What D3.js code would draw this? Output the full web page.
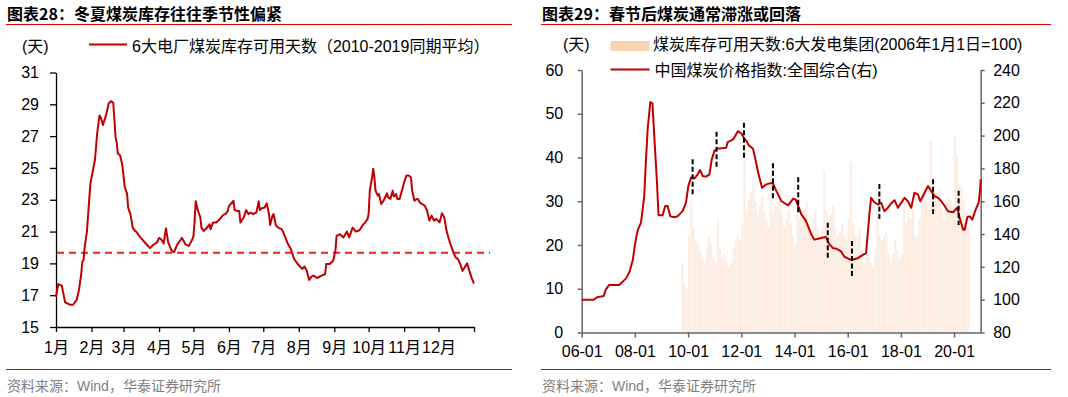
<!DOCTYPE html>
<html>
<head>
<meta charset="utf-8">
<script src="https://cdn.jsdelivr.net/npm/d3@7"></script>
<style>
  body { margin: 0; background: #fff; }
  svg { display: block; font-family: "Liberation Sans", "Noto Sans CJK SC", sans-serif; }
  .title { font-family: "Noto Sans CJK SC", sans-serif; font-weight: 700; font-size: 16px; fill: #000; }
  .source { font-size: 14px; fill: #808080; }
  .legend { font-size: 16px; fill: #000; }
  .axis text { font-size: 16px; fill: #000; font-family: "Liberation Sans", "Noto Sans CJK SC", sans-serif; }
</style>
</head>
<body>
<svg id="chart" width="1068" height="397"></svg>
<script>
// ---- chart 28: inventory days, 2010-2019 average, [day of year, days] ----
const invSeries = [
  [0,16.9],[2,17.7],[5,17.6],[8,16.55],[12,16.4],[15,16.4],[18,16.7],[20,17.3],[22,18.3],[23,19.1],
  [24,19.2],[25,20.0],[27,21.0],[30,24.0],[34,25.5],[36,27.2],[38,28.3],[39,28.2],[41,27.7],[44,28.4],
  [46,29.05],[48,29.2],[50,29.1],[52,26.95],[53,26.6],[54,25.9],[56,25.8],[58,25.15],[60,23.8],[62,23.4],
  [63,22.5],[65,22.1],[67,21.25],[69,21.04],[70,21.0],[74,20.6],[79,20.2],[82,19.96],[85,20.17],[88,20.3],
  [90,20.6],[92,20.5],[94,20.25],[96,21.2],[98,20.3],[101,19.8],[103,19.7],[106,20.2],[109,20.5],[110,20.6],
  [113,20.2],[116,20.1],[119,20.5],[120,20.7],[121,21.6],[122,22.9],[124,22.3],[126,21.9],[127,21.25],[129,21.04],
  [132,21.25],[134,21.46],[135,21.15],[137,21.57],[140,21.57],[143,21.78],[146,22.05],[148,22.1],[150,22.3],[151,22.6],
  [153,22.77],[155,22.94],[156,22.35],[158,22.3],[160,22.3],[161,21.57],[164,21.9],[166,22.35],[168,22.1],[170,22.2],
  [172,22.1],[175,22.2],[177,22.9],[178,22.35],[180,22.48],[182,22.5],[184,22.77],[186,22.1],[187,21.42],[189,21.99],
  [190,22.1],[192,21.4],[194,21.25],[197,21.15],[198,21.04],[202,20.3],[205,19.9],[208,19.27],[211,18.96],[215,18.65],
  [217,18.8],[219,18.54],[221,17.96],[223,18.17],[225,18.23],[228,18.08],[232,18.23],[235,18.33],[236,18.96],[239,18.96],
  [242,19.17],[244,19.8],[245,20.73],[248,20.83],[251,20.63],[254,21.0],[256,20.63],[259,21.25],[262,21.0],[265,21.08],
  [268,21.42],[270,21.57],[272,21.78],[273,22.1],[274,23.57],[276,24.4],[277,24.95],[278,24.4],[279,23.57],[281,23.26],
  [282,23.36],[284,22.73],[286,22.94],[289,23.4],[290,23.15],[292,23.05],[294,23.57],[295,23.2],[297,23.36],[298,23.05],
  [300,23.05],[302,23.57],[304,24.1],[306,24.52],[308,24.52],[310,24.4],[311,23.57],[313,22.94],[315,23.05],[316,23.05],
  [318,22.8],[322,22.63],[324,22.32],[326,21.69],[328,22.0],[330,21.69],[332,21.8],[335,21.58],[337,22.15],[339,21.9],
  [341,21.06],[343,20.53],[345,20.1],[347,19.69],[349,19.37],[351,19.27],[353,18.96],[355,18.53],[359,19.0],[361,18.53],
  [363,18.07],[365,17.73]
];
const invAverage = 19.67;
const invTicks = [15, 17, 19, 21, 23, 25, 27, 29, 31];
const monthLabels = ['1月','2月','3月','4月','5月','6月','7月','8月','9月','10月','11月','12月'];

// ---- chart 29: coal price index [year, index] and inventory days (monthly) ----
const priceSeries = [
  [2006.0,100],[2006.45,100],[2006.58,101.5],[2006.83,102.3],[2006.9,106],[2007.03,109],[2007.41,109],[2007.54,111],
  [2007.67,113],[2007.8,117],[2007.92,124],[2007.98,131],[2008.05,138],[2008.12,143],[2008.23,147],[2008.35,163],
  [2008.41,183],[2008.48,204],[2008.58,220.5],[2008.66,219.6],[2008.75,193.6],[2008.83,171.3],[2008.89,151.4],[2009.04,151.4],
  [2009.14,157.1],[2009.23,157.1],[2009.33,150.9],[2009.48,150.3],[2009.61,150.9],[2009.8,154.1],[2009.92,159.2],[2010.01,169.4],
  [2010.11,174.5],[2010.24,174],[2010.36,176.4],[2010.45,179],[2010.55,175.4],[2010.68,175],[2010.8,176.4],[2010.89,185.6],
  [2010.99,190.7],[2011.09,192],[2011.43,192.6],[2011.49,196],[2011.68,197.6],[2011.75,199.2],[2011.87,202.7],[2012.0,201.3],
  [2012.1,198.6],[2012.19,196.7],[2012.29,194],[2012.44,192],[2012.53,185.6],[2012.65,176.4],[2012.78,168.2],[2012.94,170.3],
  [2013.07,170.9],[2013.19,170.9],[2013.32,166.2],[2013.51,160],[2013.76,157.5],[2013.95,161.6],[2014.04,161.1],[2014.14,157.1],
  [2014.26,152],[2014.43,148],[2014.62,140.2],[2014.74,136.6],[2014.89,137.1],[2015.04,137.8],[2015.18,138.2],[2015.3,134],
  [2015.45,131.4],[2015.56,131.2],[2015.75,129.4],[2015.87,126.3],[2016.12,124.2],[2016.38,125.3],[2016.57,127.3],[2016.69,128.4],
  [2016.82,152.9],[2016.88,162.1],[2017.0,159.4],[2017.13,158],[2017.26,159],[2017.38,153.9],[2017.51,156],[2017.62,158.5],
  [2017.76,160.7],[2017.89,156],[2018.01,159],[2018.14,162.1],[2018.26,160],[2018.39,156],[2018.51,165.2],[2018.64,164.1],
  [2018.73,160],[2018.89,165.2],[2019.02,169.3],[2019.14,166.2],[2019.27,163.1],[2019.4,162.1],[2019.52,160],[2019.65,157],
  [2019.77,153.9],[2019.96,153.3],[2020.12,156],[2020.21,149.8],[2020.34,142.7],[2020.4,142.7],[2020.5,150.4],[2020.59,150.8],
  [2020.68,148.8],[2020.81,154.9],[2020.92,159],[2020.98,167.2],[2021.0,173.4]
];
const stockStart = [2009, 10]; // first month of the inventory bars
const stockDays = [
  16, 11, 10,
  22, 30, 24, 21, 20, 19, 17, 16, 19, 22, 20, 17,
  16, 26, 19, 17, 18, 16, 15, 16, 19, 21, 22, 21,
  25, 43, 28, 30, 32, 34, 30, 27, 29, 31, 28, 26,
  24, 36, 27, 29, 30, 33, 27, 24, 26, 28, 25, 22,
  20, 31, 26, 27, 28, 30, 25, 23, 26, 28, 24, 22,
  24, 37, 28, 26, 27, 29, 24, 22, 23, 25, 22, 21,
  26, 39, 25, 22, 22, 24, 19, 16, 17, 18, 16, 15,
  19, 27, 22, 21, 22, 23, 18, 16, 18, 21, 19, 17,
  18, 30, 25, 27, 26, 28, 22, 22, 26, 30, 33, 30,
  28, 44, 33, 31, 32, 33, 28, 26, 29, 31, 30, 27,
  45, 40, 34, 33, 30, 26, 24
];
// Spring Festival markers: [year, low, high] on the right axis
const festivalMarks = [
  [2010.17,163.8,185.6],[2011.07,180.7,202.4],[2012.1,186.2,207.9],[2013.19,161.8,183.1],[2014.14,153,174.6],
  [2015.25,125.2,146.9],[2016.16,113.8,135.8],[2017.19,149,170.5],[2019.21,152.2,173.4],[2020.17,145.5,166.4]
];
const yearTicks = [2006, 2008, 2010, 2012, 2014, 2016, 2018, 2020];
const leftTicks29 = [0, 10, 20, 30, 40, 50, 60];
const rightTicks29 = [80, 100, 120, 140, 160, 180, 200, 220, 240];

const svg = d3.select('#chart');

function frame(x0, x1, title) {
  svg.append('text').attr('class', 'title').attr('x', x0 + 1).attr('y', 13)
    .attr('dominant-baseline', 'central').text(title);
  svg.append('line').attr('x1', x0).attr('x2', x1).attr('y1', 24.5).attr('y2', 24.5)
    .attr('stroke', '#e00000').attr('stroke-width', 1.2);
  svg.append('line').attr('x1', x0).attr('x2', x1).attr('y1', 369.5).attr('y2', 369.5)
    .attr('stroke', '#e00000').attr('stroke-width', 1.2);
  svg.append('text').attr('class', 'source').attr('x', x0 + 1).attr('y', 386)
    .attr('dominant-baseline', 'central').text('资料来源：Wind，华泰证券研究所');
}

// ===== left panel =====
frame(6, 512, '图表28：冬夏煤炭库存往往季节性偏紧');

const yearStart = new Date(2019, 0, 1);
const dayDate = d => new Date(2019, 0, 1 + d);
const x1 = d3.scaleTime().domain([yearStart, new Date(2020, 0, 1)]).range([56, 474]);
const y1 = d3.scaleLinear().domain([15, 31]).range([327, 72.5]);

const monthTicks = d3.timeMonth.range(yearStart, new Date(2020, 0, 2));
const gx1 = svg.append('g').attr('class', 'axis').attr('transform', 'translate(0,327)')
  .call(d3.axisBottom(x1).tickValues(monthTicks).tickSize(5).tickSizeOuter(0).tickPadding(10)
    .tickFormat((d, i) => i < 12 ? monthLabels[i] : ''));
const gy1 = svg.append('g').attr('class', 'axis').attr('transform', 'translate(56,0)')
  .call(d3.axisLeft(y1).tickValues(invTicks).tickSize(6).tickSizeOuter(0).tickPadding(11));
[gx1, gy1].forEach(g => {
  g.selectAll('path, line').attr('stroke', '#000').attr('stroke-width', 1.3);
});

svg.append('line')
  .attr('x1', x1.range()[0] + 1).attr('x2', x1.range()[1] + 16)
  .attr('y1', y1(invAverage)).attr('y2', y1(invAverage))
  .attr('stroke', '#ee2020').attr('stroke-width', 2).attr('stroke-dasharray', '7,5');

svg.append('path').datum(invSeries)
  .attr('fill', 'none').attr('stroke', '#c00000').attr('stroke-width', 2).attr('stroke-linejoin', 'round')
  .attr('d', d3.line().x(d => x1(dayDate(d[0]))).y(d => y1(d[1])));

svg.append('text').attr('class', 'legend').attr('x', 22).attr('y', 46)
  .attr('dominant-baseline', 'central').text('(天)');
svg.append('line').attr('x1', 89).attr('x2', 127).attr('y1', 44.5).attr('y2', 44.5)
  .attr('stroke', '#c00000').attr('stroke-width', 2);
svg.append('text').attr('class', 'legend').attr('x', 132).attr('y', 46)
  .attr('dominant-baseline', 'central').text('6大电厂煤炭库存可用天数（2010-2019同期平均）');

// ===== right panel =====
frame(541, 1051, '图表29：春节后煤炭通常滞涨或回落');

const x2 = d3.scaleLinear().domain([2006, 2021]).range([581.7, 980.7]);
const yL = d3.scaleLinear().domain([0, 60]).range([332.5, 70]);
const yR = d3.scaleLinear().domain([80, 240]).range([332.5, 70]);

const stockBars = stockDays.map((v, i) => ({
  t: stockStart[0] + (stockStart[1] - 1 + i) / 12,
  v: v
}));
const monthWidth = x2(2007) / 12 - x2(2006) / 12;
svg.append('g').selectAll('rect').data(stockBars).enter().append('rect')
  .attr('x', d => x2(d.t))
  .attr('width', monthWidth * 0.85)
  .attr('y', d => yL(d.v))
  .attr('height', d => yL(0) - yL(d.v))
  .attr('fill', '#f9d3b5').attr('opacity', 0.45);

const gx2 = svg.append('g').attr('class', 'axis').attr('transform', 'translate(0,332.5)')
  .call(d3.axisBottom(x2).tickValues(yearTicks).tickSize(5).tickSizeOuter(0).tickPadding(8)
    .tickFormat(d => String(d).slice(2) + '-01'));
const gyL = svg.append('g').attr('class', 'axis').attr('transform', 'translate(581.7,0)')
  .call(d3.axisLeft(yL).tickValues(leftTicks29).tickSize(4).tickSizeOuter(0).tickPadding(14.5));
const gyR = svg.append('g').attr('class', 'axis').attr('transform', 'translate(980.7,0)')
  .call(d3.axisRight(yR).tickValues(rightTicks29).tickSize(4).tickSizeOuter(0).tickPadding(8.5));
[gx2, gyL, gyR].forEach(g => {
  g.selectAll('path, line').attr('stroke', '#666').attr('stroke-width', 1.5);
});

svg.append('path').datum(priceSeries)
  .attr('fill', 'none').attr('stroke', '#c00000').attr('stroke-width', 2).attr('stroke-linejoin', 'round')
  .attr('d', d3.line().x(d => x2(d[0])).y(d => yR(d[1])));

svg.append('g').selectAll('line').data(festivalMarks).enter().append('line')
  .attr('x1', d => x2(d[0])).attr('x2', d => x2(d[0]))
  .attr('y1', d => yR(d[2])).attr('y2', d => yR(d[1]))
  .attr('stroke', '#000').attr('stroke-width', 2).attr('stroke-dasharray', '5,2.5');

svg.append('text').attr('class', 'legend').attr('x', 563).attr('y', 44)
  .attr('dominant-baseline', 'central').text('(天)');
svg.append('rect').attr('x', 610.5).attr('y', 41).attr('width', 39).attr('height', 10)
  .attr('fill', '#f9d2b2');
svg.append('text').attr('class', 'legend').attr('x', 653).attr('y', 44)
  .attr('dominant-baseline', 'central').text('煤炭库存可用天数:6大发电集团(2006年1月1日=100)');
svg.append('line').attr('x1', 610.5).attr('x2', 649.5).attr('y1', 69.5).attr('y2', 69.5)
  .attr('stroke', '#c00000').attr('stroke-width', 2);
svg.append('text').attr('class', 'legend').attr('x', 654.5).attr('y', 70)
  .attr('dominant-baseline', 'central').text('中国煤炭价格指数:全国综合(右)');
</script>
</body>
</html>
